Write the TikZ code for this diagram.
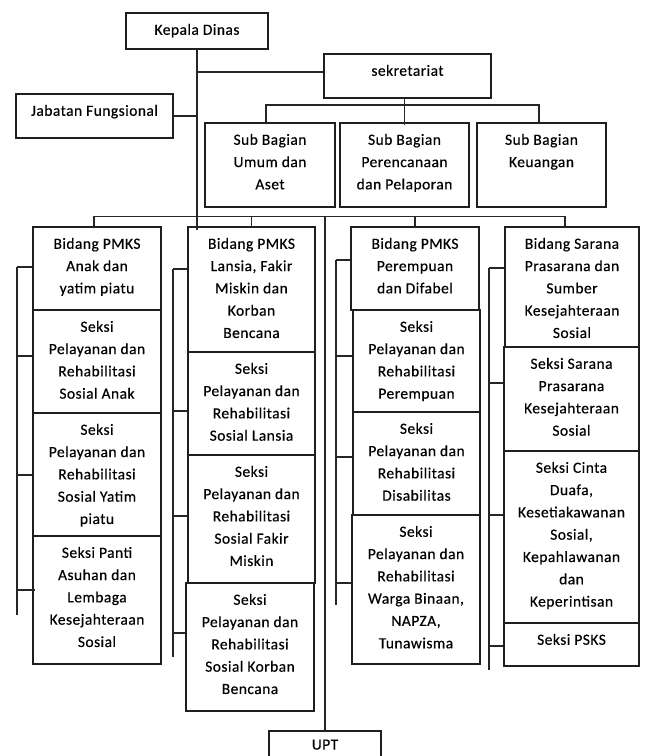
\documentclass[tikz,border=0pt]{standalone}
\usepackage{fontspec}
\setmainfont{Carlito}[LetterSpace=3,FakeBold=0.4]
\usetikzlibrary{calc}
\tikzset{
  box/.style={draw=black!88, line width=1.5pt, inner sep=0pt, rectangle},
  txt/.style={align=center, inner sep=0pt, anchor=north, text=black,
    font=\fontsize{15.5}{22.3}\selectfont},
  ln/.style={draw=black!85, line width=1.5pt},
}
\newcommand\bx[6]{%
  \node[box, minimum width={#4-#2}, minimum height={#5-#3}] (#1) at ({(#2+#4)/2},{(#3+#5)/2}) {};
  \node[txt] (#1t) at ($(#1.north)+(0,6.7)$) {\strut#6};
}
\begin{document}
\begin{tikzpicture}[x=1pt,y=-1pt]
\useasboundingbox (0,0) rectangle (646,756);
\fill[white] (0,0) rectangle (646,756);
\begin{scope}
\clip (0,0) rectangle (646,756);
% top
\bx{kd}{126}{13}{268}{49}{Kepala Dinas}
\bx{sek}{324}{54}{491}{98}{sekretariat}
\bx{jf}{16}{94}{173}{138}{Jabatan Fungsional}
\bx{sbU}{205}{123}{335}{207}{Sub Bagian\\Umum dan\\Aset}
\bx{sbP}{340}{123}{469}{207}{Sub Bagian\\Perencanaan\\dan Pelaporan}
\bx{sbK}{477}{123}{606}{207}{Sub Bagian\\Keuangan}
% column 1
\bx{bA}{33}{227}{161}{310}{Bidang PMKS\\Anak dan\\yatim piatu}
\bx{sA1}{33}{310}{161}{413}{Seksi\\Pelayanan dan\\Rehabilitasi\\Sosial Anak}
\bx{sA2}{33}{413}{161}{536}{Seksi\\Pelayanan dan\\Rehabilitasi\\Sosial Yatim\\piatu}
\bx{sA3}{33}{536}{161}{664}{Seksi Panti\\Asuhan dan\\Lembaga\\Kesejahteraan\\Sosial}
% column 2
\bx{bB}{188}{227}{315}{352}{Bidang PMKS\\Lansia, Fakir\\Miskin dan\\Korban\\Bencana}
\bx{sB1}{188}{352}{315}{455}{Seksi\\Pelayanan dan\\Rehabilitasi\\Sosial Lansia}
\bx{sB2}{188}{455}{315}{583}{Seksi\\Pelayanan dan\\Rehabilitasi\\Sosial Fakir\\Miskin}
\bx{sB3}{186}{583}{314}{711}{Seksi\\Pelayanan dan\\Rehabilitasi\\Sosial Korban\\Bencana}
% column 3
\bx{bC}{351}{227}{479}{310}{Bidang PMKS\\Perempuan\\dan Difabel}
\bx{sC1}{353}{310}{480}{412}{Seksi\\Pelayanan dan\\Rehabilitasi\\Perempuan}
\bx{sC2}{353}{412}{480}{515}{Seksi\\Pelayanan dan\\Rehabilitasi\\Disabilitas}
\bx{sC3}{352}{515}{480}{664}{Seksi\\Pelayanan dan\\Rehabilitasi\\Warga Binaan,\\NAPZA,\\Tunawisma}
% column 4
\bx{bD}{505}{227}{639}{347}{Bidang Sarana\\Prasarana dan\\Sumber\\Kesejahteraan\\Sosial}
\bx{sD1}{504}{347}{639}{451}{Seksi Sarana\\Prasarana\\Kesejahteraan\\Sosial}
\bx{sD2}{504}{451}{639}{623}{Seksi Cinta\\Duafa,\\Kesetiakawanan\\Sosial,\\Kepahlawanan\\dan\\Keperintisan}
\bx{sD3}{504}{623}{639}{666}{Seksi PSKS}
% UPT
\node[box, minimum width=112, minimum height=40] (upt) at (325,751) {};
\node[txt] at ($(upt.north)+(0,3.5)$) {\strut UPT};

% connectors
\coordinate (tr) at (197,230);
\draw[ln] (kd.south) -- (tr);
\coordinate (j1) at (197,72);
\draw[ln] (j1) -- (j1 -| sek.west);
\draw[ln] (jf.east) -- (jf.east -| kd.south);
\coordinate (sb1) at (266,105);
\coordinate (sb2) at (539,105);
\draw[ln] (sb1 |- sbU.north) -- (sb1) -- (sb2) -- (sb2 |- sbK.north);
\draw[ln] (sek.south -| sbP.north) -- ($(sbP.north)+(0,3)$);
\coordinate (bb1) at (94,216.5);
\coordinate (bb2) at (565,216.5);
\draw[ln] (bb1 |- bA.north) -- (bb1) -- (bb2) -- (bb2 |- bD.north);
\draw[ln] (bB.north) -- (bB.north |- bb1);
\draw[ln] (bC.north) -- (bC.north |- bb1);
\draw[ln] (upt.north |- bb1) -- (upt.north);

% brackets column 1
\coordinate (v1t) at (17,267);
\coordinate (v1b) at (17,615);
\draw[ln] (v1t) -- (v1b);
\draw[ln] (v1t) -- (v1t -| bA.west);
\draw[ln] (v1t |- 0,356) -- (sA1.west |- 0,356);
\draw[ln] (v1t |- 0,475) -- (sA2.west |- 0,475);
\draw[ln] (v1t |- 0,590) -- ($(sA3.west |- 0,590)+(3,0)$);
% column 2
\coordinate (v2t) at (173,269);
\coordinate (v2b) at (173,657);
\draw[ln] (v2t) -- (v2b);
\draw[ln] (v2t) -- (v2t -| bB.west);
\draw[ln] (v2t |- 0,411) -- (sB1.west |- 0,411);
\draw[ln] (v2t |- 0,516) -- (sB2.west |- 0,516);
\draw[ln] (v2t |- 0,633) -- (sB3.west |- 0,633);
% column 3
\coordinate (v3t) at (336,260);
\coordinate (v3b) at (336,605);
\draw[ln] (v3t) -- (v3b);
\draw[ln] (v3t) -- (v3t -| bC.west);
\draw[ln] (v3t |- 0,356) -- (sC1.west |- 0,356);
\draw[ln] (v3t |- 0,457) -- (sC2.west |- 0,457);
\draw[ln] (v3t |- 0,583) -- (sC3.west |- 0,583);
% column 4
\coordinate (v4t) at (489,268);
\coordinate (v4b) at (489,670);
\draw[ln] (v4t) -- (v4b);
\draw[ln] (v4t) -- (v4t -| bD.west);
\draw[ln] (v4t |- 0,383) -- (sD1.west |- 0,383);
\draw[ln] (v4t |- 0,515) -- (sD2.west |- 0,515);
\draw[ln] (v4t |- 0,646) -- (sD3.west |- 0,646);
\end{scope}
\end{tikzpicture}
\end{document}
